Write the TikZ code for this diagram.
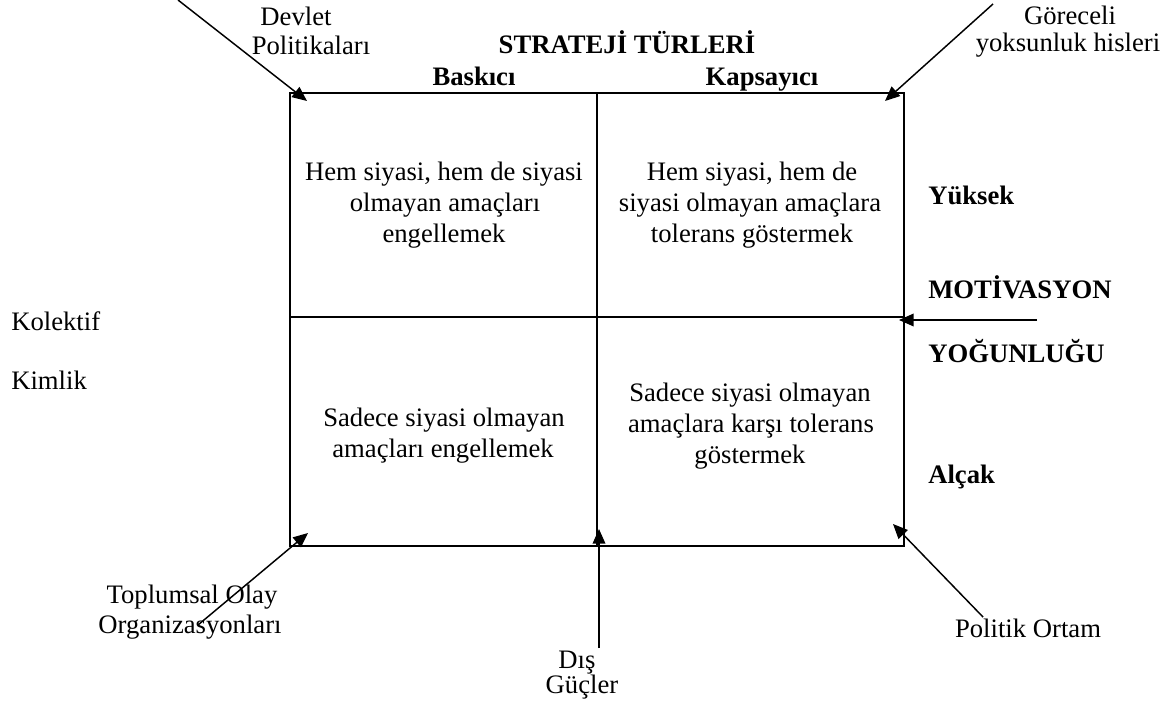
\documentclass[tikz,border=0pt]{standalone}
\usepackage{fontspec}
\setmainfont{Liberation Serif}
\usetikzlibrary{arrows.meta}
\begin{document}
\begin{tikzpicture}[x=0.75pt,y=-0.75pt,
  box/.style={line width=1.6pt},
  arr/.style={line width=1.1pt,-{Triangle[length=11pt,width=9.5pt]}},
  txt/.style={inner sep=0pt,anchor=base,font=\fontsize{20}{23}\selectfont},
  btxt/.style={txt,font=\fontsize{20}{23}\selectfont\bfseries},
  ltxt/.style={txt,anchor=base west},
  lbtxt/.style={btxt,anchor=base west}]
\useasboundingbox (0,0) rectangle (1166,709);
% frame
\coordinate (TL) at (290,93);
\coordinate (TR) at (904,93);
\coordinate (BL) at (290,546);
\coordinate (BR) at (904,546);
\coordinate (TM) at (597,93);
\coordinate (BM) at (597,546);
\coordinate (LM) at (290,317);
\coordinate (RM) at (904,317);
\draw[box] (TL) rectangle (BR);
\draw[box] (TM) -- (BM);
\draw[box] (LM) -- (RM);
% headings
\node[btxt] (title) at (627,54) {STRATEJİ TÜRLERİ};
\node[btxt] (bask) at (474,86) {Baskıcı};
\node[btxt] (kaps) at (762,86) {Kapsayıcı};
% cells
\node[txt] (c1a) at (444,181) {Hem siyasi, hem de siyasi};
\node[txt] (c1b) at (445,212) {olmayan amaçları};
\node[txt] (c1c) at (444,243) {engellemek};
\node[txt] (c2a) at (752,181) {Hem siyasi, hem de};
\node[txt] (c2b) at (750,212) {siyasi olmayan amaçlara};
\node[txt] (c2c) at (752,243) {tolerans göstermek};
\node[txt] (c3a) at (444,426) {Sadece siyasi olmayan};
\node[txt] (c3b) at (443,457) {amaçları engellemek};
\node[txt] (c4a) at (750,401) {Sadece siyasi olmayan};
\node[txt] (c4b) at (751,432) {amaçlara karşı tolerans};
\node[txt] (c4c) at (750,463) {göstermek};
% right labels
\node[lbtxt] (yuk) at (928,205) {Yüksek};
\node[lbtxt] (mot) at (928,298) {MOTİVASYON};
\node[lbtxt] (yog) at (928,362) {YOĞUNLUĞU};
\node[lbtxt] (alc) at (928,483) {Alçak};
% left labels
\node[ltxt] (kol) at (11,330) {Kolektif};
\node[ltxt] (kim) at (11,389) {Kimlik};
% outer labels
\node[txt] (dev1) at (296,26) {Devlet};
\node[txt] (dev2) at (311,55) {Politikaları};
\node[txt] (gor1) at (1070,25) {Göreceli};
\node[txt] (gor2) at (1068,52) {yoksunluk hisleri};
\node[txt] (top1) at (192,603) {Toplumsal Olay};
\node[txt] (top2) at (190,633) {Organizasyonları};
\node[txt] (dis1) at (577,668) {Dış};
\node[txt] (dis2) at (582,693) {Güçler};
\node[txt] (pol) at (1028,637) {Politik Ortam};
% arrow coordinates
\coordinate (a1s) at (178,0);    \coordinate (a1e) at (307,101);
\coordinate (a2s) at (993,4);    \coordinate (a2e) at (885,101);
\coordinate (a3s) at (1037,320); \coordinate (a3e) at (899,320);
\coordinate (a4s) at (198,625);  \coordinate (a4e) at (308,533);
\coordinate (a5s) at (599,648);  \coordinate (a5e) at (599,529);
\coordinate (a6s) at (983,617);  \coordinate (a6e) at (893,524);
\draw[arr] (a1s) -- (a1e);
\draw[arr] (a2s) -- (a2e);
\draw[arr] (a3s) -- (a3e);
\draw[arr] (a4s) -- (a4e);
\draw[arr] (a5s) -- (a5e);
\draw[arr] (a6s) -- (a6e);
\end{tikzpicture}
\end{document}
